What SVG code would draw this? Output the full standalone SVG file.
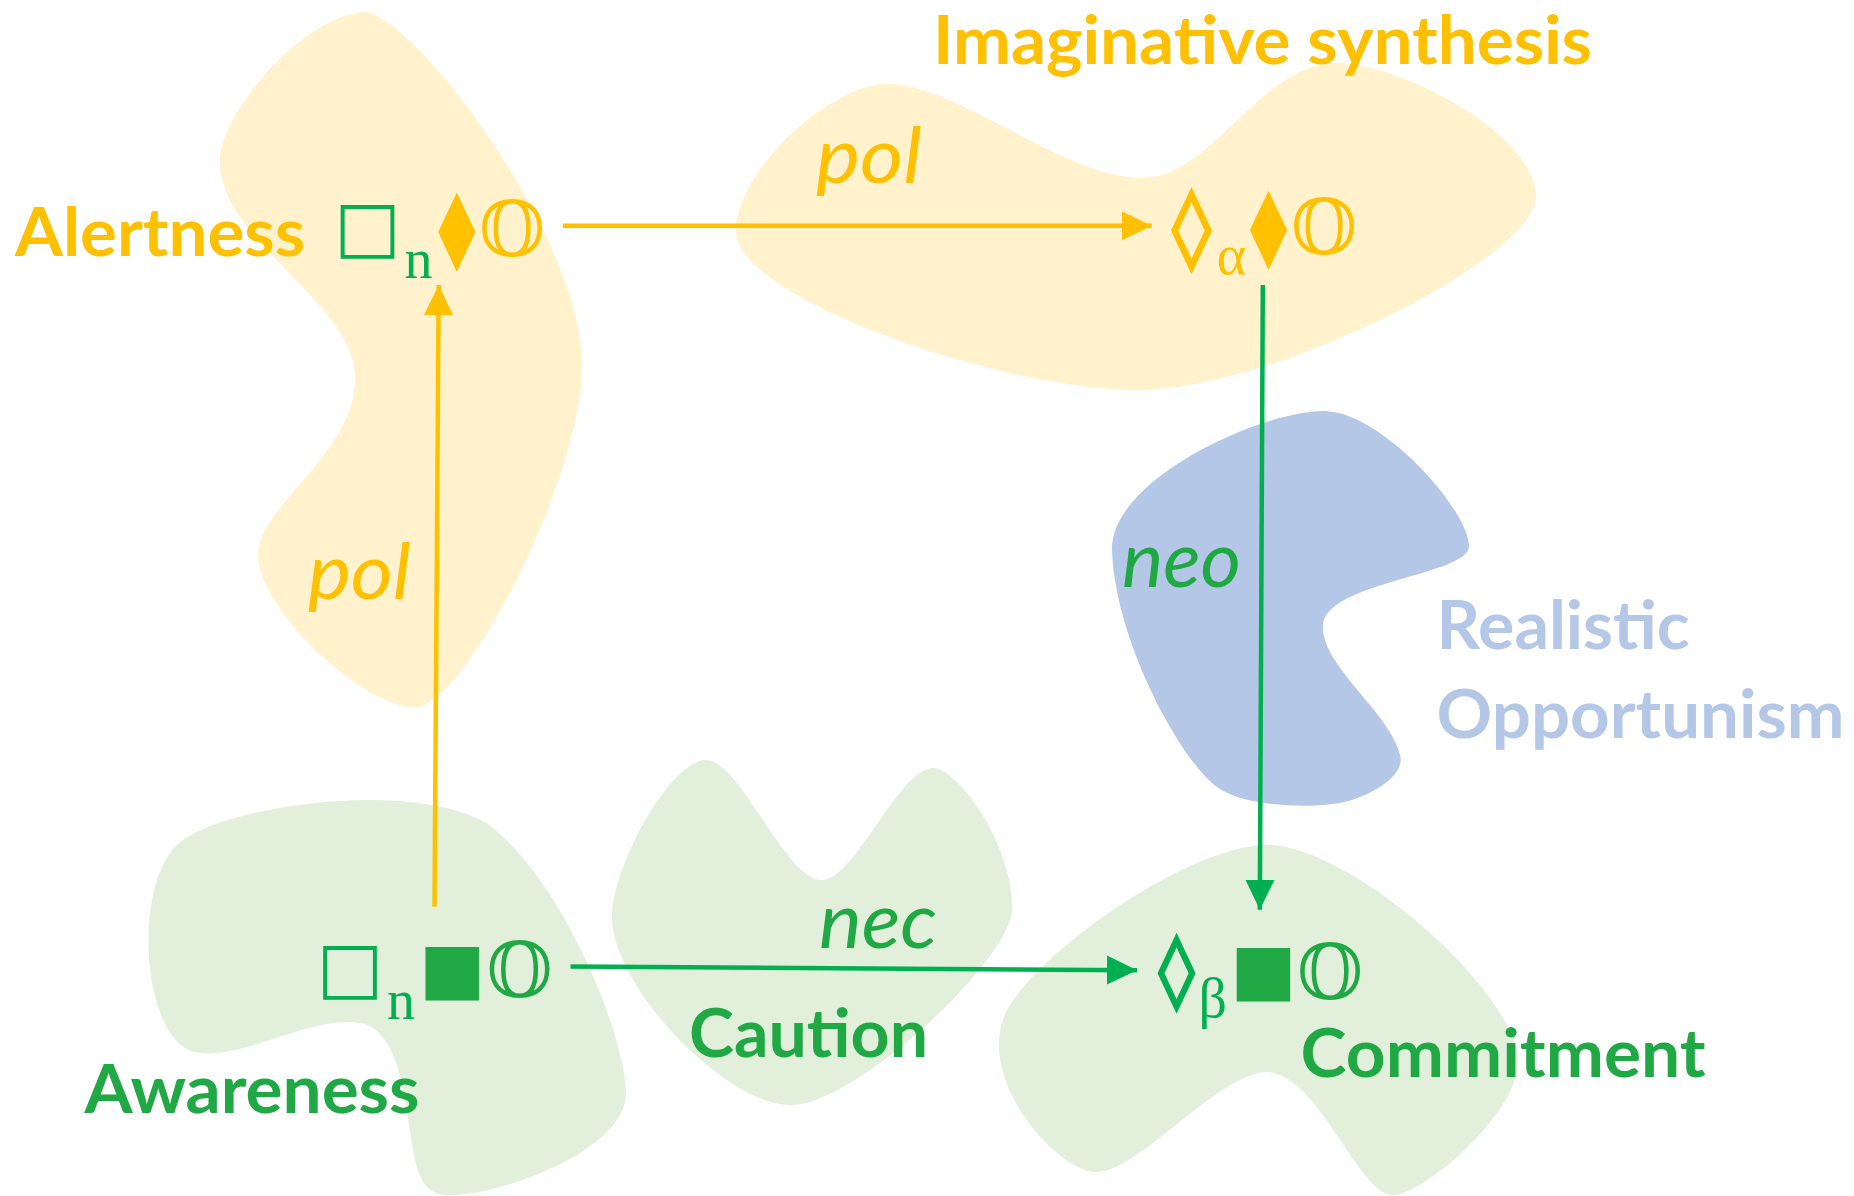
<svg xmlns="http://www.w3.org/2000/svg" width="1854" height="1196" viewBox="0 0 1854 1196">
<style>
.lab{font-family:Lato,"Open Sans","Liberation Sans",sans-serif;font-weight:700;font-size:66px}
.it{font-family:Lato,"Open Sans","Liberation Sans",sans-serif;font-style:italic;font-size:78px}
.sub{font-family:"Liberation Serif","DejaVu Serif",serif;font-size:56px}
.sym{font-family:"DejaVu Sans","Liberation Sans",sans-serif}
.loz{font-family:"DejaVu Sans","Liberation Sans",sans-serif;font-weight:700;stroke-width:2.6;stroke-linejoin:miter}
.dbl{font-family:"DejaVu Serif","DejaVu Sans",serif;font-size:76px}
.y{fill:#FFC000}.g{fill:#00B050}.gd{fill:#1FA843}.b{fill:#B4C7E7}
.ys{stroke:#FFC000}.gs{stroke:#00B050}
.cy{stroke:#FFC000;stroke-width:4.5;fill:none}
.cg{stroke:#00B050;stroke-width:4.5;fill:none}
</style>
<defs>
<marker id="ahY" viewBox="0 0 30 30" markerWidth="30" markerHeight="30" refX="30" refY="15" orient="auto" markerUnits="userSpaceOnUse"><path d="M0,0.5 L30,15 L0,29.5 Z" fill="#FFC000"/></marker>
<marker id="ahG" viewBox="0 0 30 30" markerWidth="30" markerHeight="30" refX="30" refY="15" orient="auto" markerUnits="userSpaceOnUse"><path d="M0,0.5 L30,15 L0,29.5 Z" fill="#00B050"/></marker>
</defs>
<rect width="1854" height="1196" fill="#FFFFFF"/>

<g id="blob-alertness">
<path fill="#FFF2CC" d="M366,12 C310,12 225,105 220,157 C215,240 355,300 355,378 C355,455 258,505 258,555 C258,610 368,712 418,707 C468,700 586,470 582,360 C578,235 420,22 366,12 Z"/>
</g>
<g id="blob-imaginative">
<path fill="#FFF2CC" d="M881,84 C820,92 735,175 736,232 C738,300 1010,392 1140,390 C1280,388 1540,255 1536,195 C1532,130 1395,62 1335,63 C1258,66 1212,178 1142,178 C1062,178 950,78 881,84 Z"/>
</g>
<g id="blob-realistic">
<path fill="#B4C7E7" d="M1324,411 C1260,411 1110,480 1112,550 C1115,640 1180,760 1217,787 C1245,808 1320,810 1352,800 C1382,790 1405,772 1400,755 C1390,712 1320,665 1323,625 C1326,582 1470,575 1469,546 C1468,508 1380,411 1324,411 Z"/>
</g>
<g id="blob-awareness">
<path fill="#E2EFDA" d="M366,800 C300,800 205,818 177,845 C132,888 142,1040 195,1052 C240,1062 310,1015 360,1023 C400,1030 405,1100 413,1150 C420,1190 432,1196 455,1195 C505,1193 626,1150 626,1093 C626,1040 565,880 485,822 C452,805 410,800 366,800 Z"/>
</g>
<g id="blob-caution">
<path fill="#E2EFDA" d="M706,760 C670,760 610,870 612,920 C615,990 730,1110 795,1105 C860,1100 1010,960 1012,910 C1015,850 960,770 934,768 C900,766 855,880 822,880 C785,880 740,760 706,760 Z"/>
</g>
<g id="blob-commitment">
<path fill="#E2EFDA" d="M1267,845 C1190,845 1040,950 1007,1010 C972,1078 1060,1175 1098,1172 C1140,1170 1220,1072 1267,1072 C1320,1074 1360,1200 1395,1195 C1430,1190 1520,1110 1518,1060 C1515,990 1350,845 1267,845 Z"/>
</g>

<g id="connectors">
<line class="cy" x1="562.8" y1="225.8" x2="1151.7" y2="225.8" marker-end="url(#ahY)"/>
<line class="cy" x1="434.5" y1="906.8" x2="438.7" y2="285.1" marker-end="url(#ahY)"/>
<line class="cg" x1="1262.8" y1="285" x2="1259.8" y2="909.8" marker-end="url(#ahG)"/>
<line class="cg" x1="570.5" y1="966.5" x2="1137" y2="970.3" marker-end="url(#ahG)"/>
<text class="it y" x="816" y="183" textLength="106" lengthAdjust="spacingAndGlyphs">pol</text>
<text class="it y" x="308" y="599" textLength="103" lengthAdjust="spacingAndGlyphs">pol</text>
<text class="it gd" x="1122" y="587" textLength="119" lengthAdjust="spacingAndGlyphs">neo</text>
<text class="it gd" x="819" y="948" textLength="118" lengthAdjust="spacingAndGlyphs">nec</text>
</g>

<g id="node-alertness">
<text class="lab y" x="15" y="255.6" textLength="290" lengthAdjust="spacingAndGlyphs">Alertness</text>
<text class="sym g" x="367.5" y="250" font-size="70" text-anchor="middle">□</text>
<text class="sub g" x="418.6" y="277.5" text-anchor="middle">n</text>
<text class="sym y" x="456.7" y="254" font-size="76" text-anchor="middle">⧫</text>
<text class="dbl y" x="512" y="256" text-anchor="middle">𝕆</text>
</g>

<g id="node-imaginative">
<text class="lab y" x="933" y="64" font-size="64" textLength="659" lengthAdjust="spacingAndGlyphs">Imaginative synthesis</text>
<text class="loz y ys" x="1191.5" y="253" font-size="78" text-anchor="middle">◊</text>
<text class="sub y" x="1231.5" y="274" text-anchor="middle">α</text>
<text class="sym y" x="1268.6" y="252" font-size="76" text-anchor="middle">⧫</text>
<text class="dbl y" x="1324" y="253.5" text-anchor="middle">𝕆</text>
</g>

<g id="node-realistic">
<text class="lab b" x="1436.6" y="648.8" textLength="253" lengthAdjust="spacingAndGlyphs">Realistic</text>
<text class="lab b" x="1436.6" y="738.4" textLength="408" lengthAdjust="spacingAndGlyphs">Opportunism</text>
</g>

<g id="node-awareness">
<text class="lab gd" x="84.5" y="1112.6" textLength="335" lengthAdjust="spacingAndGlyphs">Awareness</text>
<text class="sym g" x="350" y="991" font-size="70" text-anchor="middle">□</text>
<text class="sub g" x="401" y="1019" text-anchor="middle">n</text>
<text class="sym gd" x="452" y="992" font-size="70" text-anchor="middle">■</text>
<text class="dbl gd" x="519.5" y="997" text-anchor="middle">𝕆</text>
</g>

<g id="node-caution">
<text class="lab gd" x="689" y="1057" textLength="239" lengthAdjust="spacingAndGlyphs">Caution</text>
</g>

<g id="node-commitment">
<text class="lab gd" x="1300.6" y="1077.4" textLength="405" lengthAdjust="spacingAndGlyphs">Commitment</text>
<text class="loz g gs" x="1176.5" y="994" font-size="72" text-anchor="middle">◊</text>
<text class="sub g" x="1212.7" y="1017" font-size="52" text-anchor="middle">β</text>
<text class="sym gd" x="1263.3" y="993" font-size="70" text-anchor="middle">■</text>
<text class="dbl gd" x="1330" y="999" text-anchor="middle">𝕆</text>
</g>
</svg>
